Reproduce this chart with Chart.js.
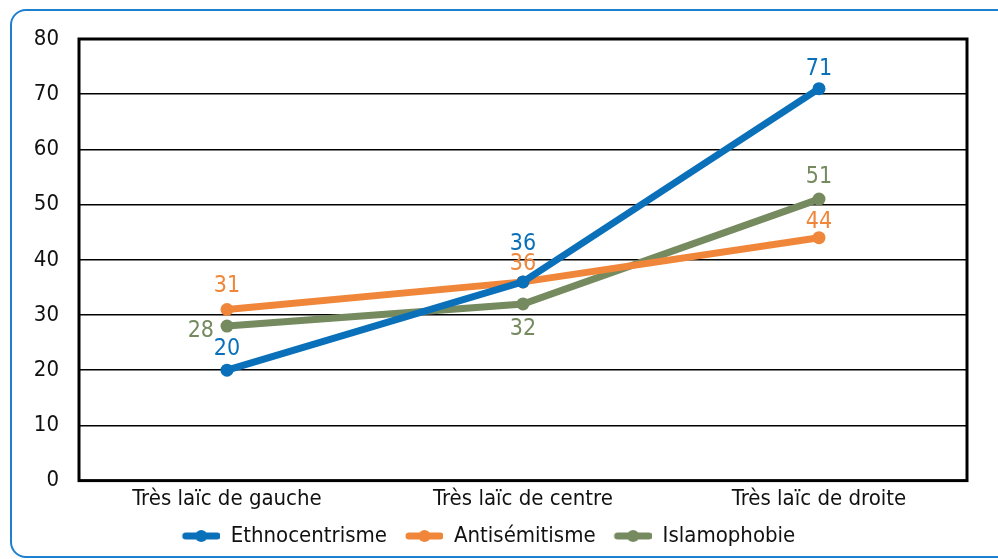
<!DOCTYPE html>
<html>
<head>
<meta charset="utf-8">
<script src="https://cdn.jsdelivr.net/npm/chart.js@4.4.0/dist/chart.umd.min.js"></script>
<style>
    html, body {
        margin: 0;
        padding: 0;
        background: #fff;
        overflow: hidden;
    }
    .frame {
        position: absolute;
        left: 10px;
        top: 9px;
        width: 1010px;
        height: 545px;
        border: 2px solid #1e80cf;
        border-radius: 16px;
    }
    .chart-container {
        position: absolute;
        left: 0;
        top: 0;
        width: 998px;
        height: 559px;
    }
</style>
</head>
<body>
<div class="frame"></div>
<div class="chart-container">
    <canvas id="chart"></canvas>
</div>
<script>
// Chart data
const categories = ['Très laïc de gauche', 'Très laïc de centre', 'Très laïc de droite'];
const ethnocentrisme = [20, 36, 71];
const antisemitisme = [31, 36, 44];
const islamophobie = [28, 32, 51];
const yTicks = [0, 10, 20, 30, 40, 50, 60, 70, 80];

const FONT = "'Liberation Sans Narrow', 'DejaVu Sans Condensed', sans-serif";
const FONT_SIZE = 22;
const BLUE = '#0a70b9';
const ORANGE = '#f0863a';
const GREEN = '#768a60';

// Legend marker: a short thick line with a dot in the middle
// (left part of the canvas is left blank to space the items out)
function legendMarker(color) {
    const c = document.createElement('canvas');
    c.width = 48;
    c.height = 14;
    const ctx = c.getContext('2d');
    ctx.strokeStyle = color;
    ctx.lineWidth = 7;
    ctx.lineCap = 'round';
    ctx.beginPath();
    ctx.moveTo(14, 7);
    ctx.lineTo(45, 7);
    ctx.stroke();
    ctx.fillStyle = color;
    ctx.beginPath();
    ctx.arc(29.5, 7, 6, 0, Math.PI * 2);
    ctx.fill();
    return c;
}

// Value labels next to each point
const valueLabels = {
    id: 'valueLabels',
    afterDatasetsDraw(chart) {
        const ctx = chart.ctx;
        ctx.save();
        ctx.font = '23px ' + FONT;
        chart.data.datasets.forEach((ds, i) => {
            const meta = chart.getDatasetMeta(i);
            meta.data.forEach((pt, j) => {
                const pos = ds.labelPos[j];
                let x = pt.x, y = pt.y;
                ctx.fillStyle = ds.borderColor;
                ctx.textBaseline = 'middle';
                if (pos === 'left') {
                    ctx.textAlign = 'right';
                    x -= 13;
                    y += 5;
                } else if (pos === 'below') {
                    ctx.textAlign = 'center';
                    y += 25;
                } else {
                    ctx.textAlign = 'center';
                    y -= ds.labelGap[j];
                }
                ctx.fillText(String(ds.data[j]), x, y);
            });
        });
        ctx.restore();
    }
};

// Thick frame around the plot area
const plotBox = {
    id: 'plotBox',
    afterDraw(chart) {
        const a = chart.chartArea;
        const ctx = chart.ctx;
        ctx.save();
        ctx.strokeStyle = '#000';
        ctx.lineWidth = 3;
        ctx.strokeRect(a.left, a.top, a.right - a.left, a.bottom - a.top);
        ctx.restore();
    }
};

function lineDataset(label, values, color, labelPos, labelGap) {
    return {
        label: label,
        data: values,
        borderColor: color,
        backgroundColor: color,
        borderWidth: 7,
        pointRadius: 6.5,
        pointHoverRadius: 6.5,
        pointBackgroundColor: color,
        pointBorderWidth: 0,
        pointStyle: 'circle',
        legendMarker: legendMarker(color),
        tension: 0,
        labelPos: labelPos,
        labelGap: labelGap
    };
}

const datasets = [
    lineDataset('Ethnocentrisme', ethnocentrisme, BLUE, ['above', 'above', 'above'], [21, 38, 20]),
    lineDataset('Antisémitisme', antisemitisme, ORANGE, ['above', 'above', 'above'], [23, 18, 16]),
    lineDataset('Islamophobie', islamophobie, GREEN, ['left', 'below', 'above'], [0, 0, 22])
];

new Chart(document.getElementById('chart'), {
    type: 'line',
    data: { labels: categories, datasets: datasets },
    options: {
        responsive: true,
        maintainAspectRatio: false,
        animation: false,
        layout: {
            padding: { top: 39, right: 31, left: 0, bottom: 2 }
        },
        plugins: {
            tooltip: { enabled: false },
            legend: {
                position: 'bottom',
                labels: {
                    usePointStyle: true,
                    pointStyleWidth: 48,
                    boxWidth: 48,
                    boxHeight: 14,
                    padding: 8,
                    color: '#111',
                    font: { family: FONT, size: FONT_SIZE },
                    generateLabels(chart) {
                        return chart.data.datasets.map((ds, i) => ({
                            text: ds.label,
                            fillStyle: ds.borderColor,
                            strokeStyle: ds.borderColor,
                            lineWidth: 0,
                            pointStyle: ds.legendMarker,
                            hidden: false,
                            datasetIndex: i,
                            fontColor: '#111'
                        }));
                    }
                }
            }
        },
        scales: {
            x: {
                offset: true,
                grid: { display: false, drawTicks: false },
                border: { display: false },
                ticks: {
                    color: '#111',
                    padding: 5,
                    font: { family: FONT, size: FONT_SIZE }
                }
            },
            y: {
                min: 0,
                max: 80,
                afterFit(scale) { scale.width = 79; },
                afterBuildTicks(scale) {
                    scale.ticks = yTicks.map(v => ({ value: v }));
                },
                grid: {
                    color: '#000',
                    lineWidth: 1.5,
                    drawTicks: false
                },
                border: { display: false },
                ticks: {
                    color: '#111',
                    padding: 20,
                    font: { family: FONT, size: FONT_SIZE }
                }
            }
        }
    },
    plugins: [plotBox, valueLabels]
});
</script>
</body>
</html>
